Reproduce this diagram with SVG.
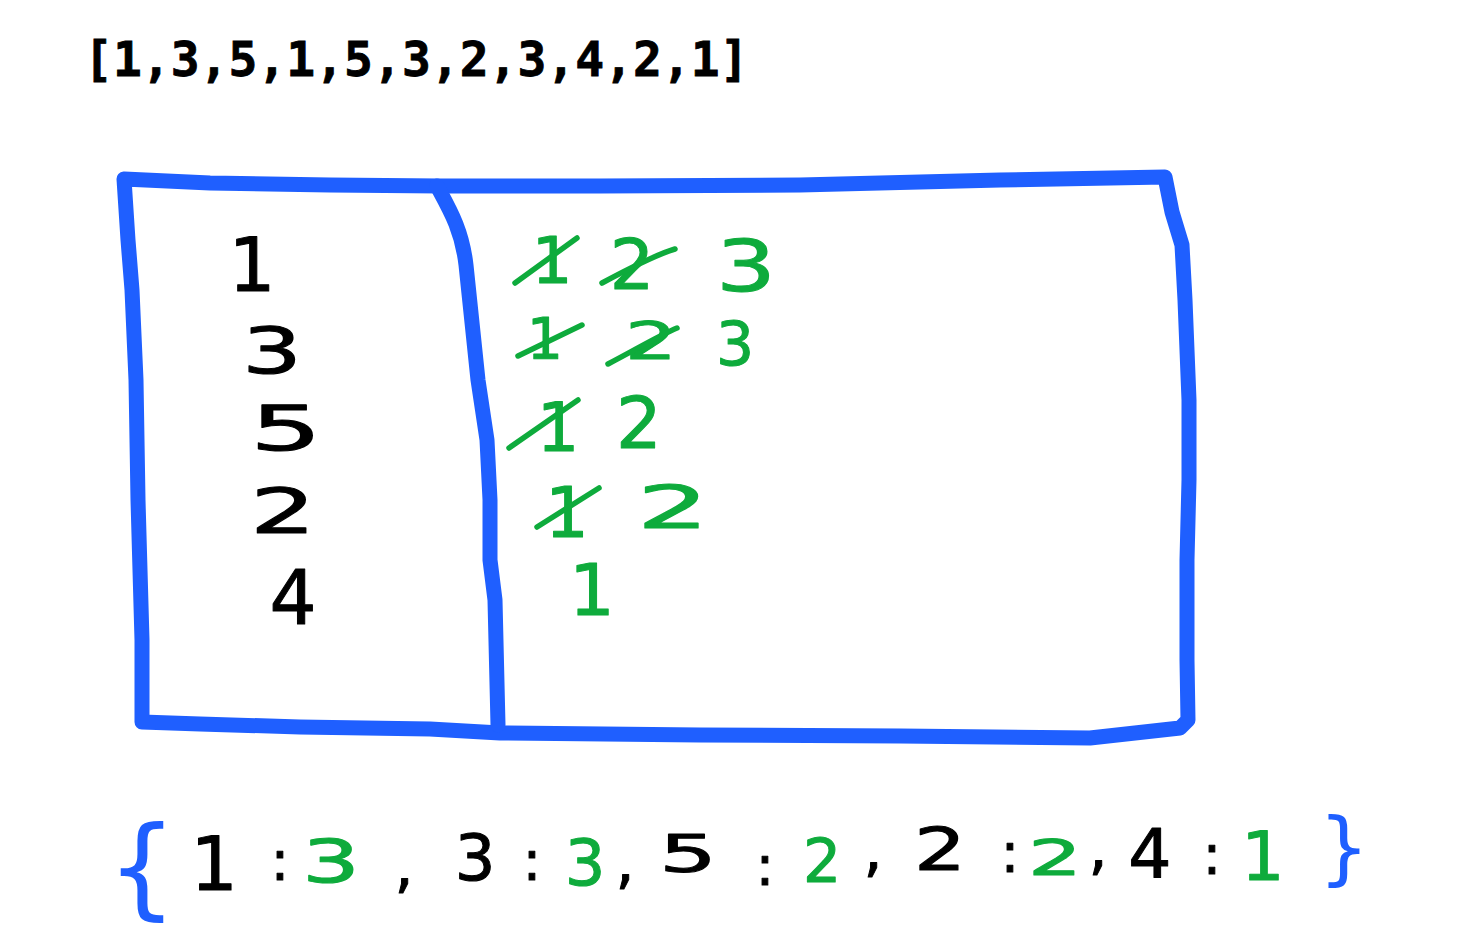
<svg xmlns="http://www.w3.org/2000/svg" width="1476" height="942" viewBox="0 0 1476 942">
<style>
.bg{fill:#ffffff}
.arr{font-family:"DejaVu Sans Mono","Liberation Mono",monospace;font-weight:bold;font-size:48px;fill:#000;stroke:#000;stroke-width:0.8}
.hw{font-family:"DejaVu Sans","Liberation Sans",sans-serif;text-anchor:middle;stroke-width:1;stroke-linejoin:round}
.k{fill:#000;stroke:#000}
.g{fill:#0eab3c;stroke:#0eab3c}
.b{fill:#1f5fff;stroke:none}
.blue{fill:none;stroke:#1f5fff;stroke-width:15;stroke-linecap:round;stroke-linejoin:round}
.strike{fill:none;stroke:#0eab3c;stroke-width:5.5;stroke-linecap:round}
</style>
<rect class="bg" x="0" y="0" width="1476" height="942"/>
<g id="array">
<text class="arr" x="84" y="76">[1,3,5,1,5,3,2,3,4,2,1]</text>
</g>
<g id="connectors">
<path class="blue" d="M124,179 L210,183 L330,185 L440,186 L600,186 L800,185 L1000,180 L1165,177 L1172,212 L1182,245 L1185,300 L1189,400 L1189,480 L1187,560 L1187,660 L1188,720 L1180,728 L1090,738 L900,736 L700,735 L500,733 L430,729 L300,727 L200,724 L142,722 L142,640 L138,500 L136,380 L132,290 L128,240 Z"/>
<path class="blue" d="M437,186 C450,210 462,230 466,265 L478,380 L487,440 L490,500 L490,560 L495,600 L498,725"/>
</g>
<g id="keys" class="hw k">
<text x="252" y="291" font-size="74">1</text>
<text x="272" y="373" font-size="64" textLength="60" lengthAdjust="spacingAndGlyphs">3</text>
<text x="286" y="450" font-size="62" textLength="72" lengthAdjust="spacingAndGlyphs">5</text>
<text x="283" y="533" font-size="63" textLength="66" lengthAdjust="spacingAndGlyphs">2</text>
<text x="293" y="624" font-size="74">4</text>
</g>
<g id="counts" class="hw g">
<text x="552" y="283" font-size="64">1</text>
<text x="632" y="289" font-size="70">2</text>
<text x="746" y="291" font-size="72" textLength="60" lengthAdjust="spacingAndGlyphs">3</text>
<text x="545" y="359" font-size="57">1</text>
<text x="651" y="359" font-size="52" textLength="52" lengthAdjust="spacingAndGlyphs">2</text>
<text x="735" y="365" font-size="60">3</text>
<text x="558" y="451" font-size="67">1</text>
<text x="639" y="448" font-size="72">2</text>
<text x="567" y="537" font-size="69">1</text>
<text x="673" y="528" font-size="58" textLength="72" lengthAdjust="spacingAndGlyphs">2</text>
<text x="592" y="615" font-size="72">1</text>
<path class="strike" d="M515,283 L577,238"/>
<path class="strike" d="M602,283 C630,268 655,255 675,249"/>
<path class="strike" d="M518,356 L582,325"/>
<path class="strike" d="M608,364 C635,350 660,335 677,328"/>
<path class="strike" d="M509,448 L578,400"/>
<path class="strike" d="M537,527 L599,488"/>
</g>
<g id="result" class="hw">
<text class="b" x="142" y="905" font-size="110">{</text>
<text class="k" x="214" y="890" font-size="75">1</text>
<text class="k" x="280" y="880" font-size="56">:</text>
<text class="g" x="331" y="882" font-size="58" textLength="58" lengthAdjust="spacingAndGlyphs">3</text>
<text class="k" x="404" y="886" font-size="60">,</text>
<text class="k" x="475" y="880" font-size="64">3</text>
<text class="k" x="532" y="880" font-size="56">:</text>
<text class="g" x="585" y="885" font-size="64">3</text>
<text class="k" x="625" y="882" font-size="60">,</text>
<text class="k" x="688" y="872" font-size="52" textLength="58" lengthAdjust="spacingAndGlyphs">5</text>
<text class="k" x="765" y="885" font-size="56">:</text>
<text class="g" x="822" y="882" font-size="60">2</text>
<text class="k" x="873" y="870" font-size="60">,</text>
<text class="k" x="940" y="870" font-size="58" textLength="52" lengthAdjust="spacingAndGlyphs">2</text>
<text class="k" x="1010" y="872" font-size="56">:</text>
<text class="g" x="1055" y="875" font-size="50" textLength="54" lengthAdjust="spacingAndGlyphs">2</text>
<text class="k" x="1098" y="868" font-size="60">,</text>
<text class="k" x="1150" y="878" font-size="68">4</text>
<text class="k" x="1212" y="874" font-size="56">:</text>
<text class="g" x="1263" y="880" font-size="68">1</text>
<text class="b" x="1344" y="875" font-size="80">}</text>
</g>
</svg>
